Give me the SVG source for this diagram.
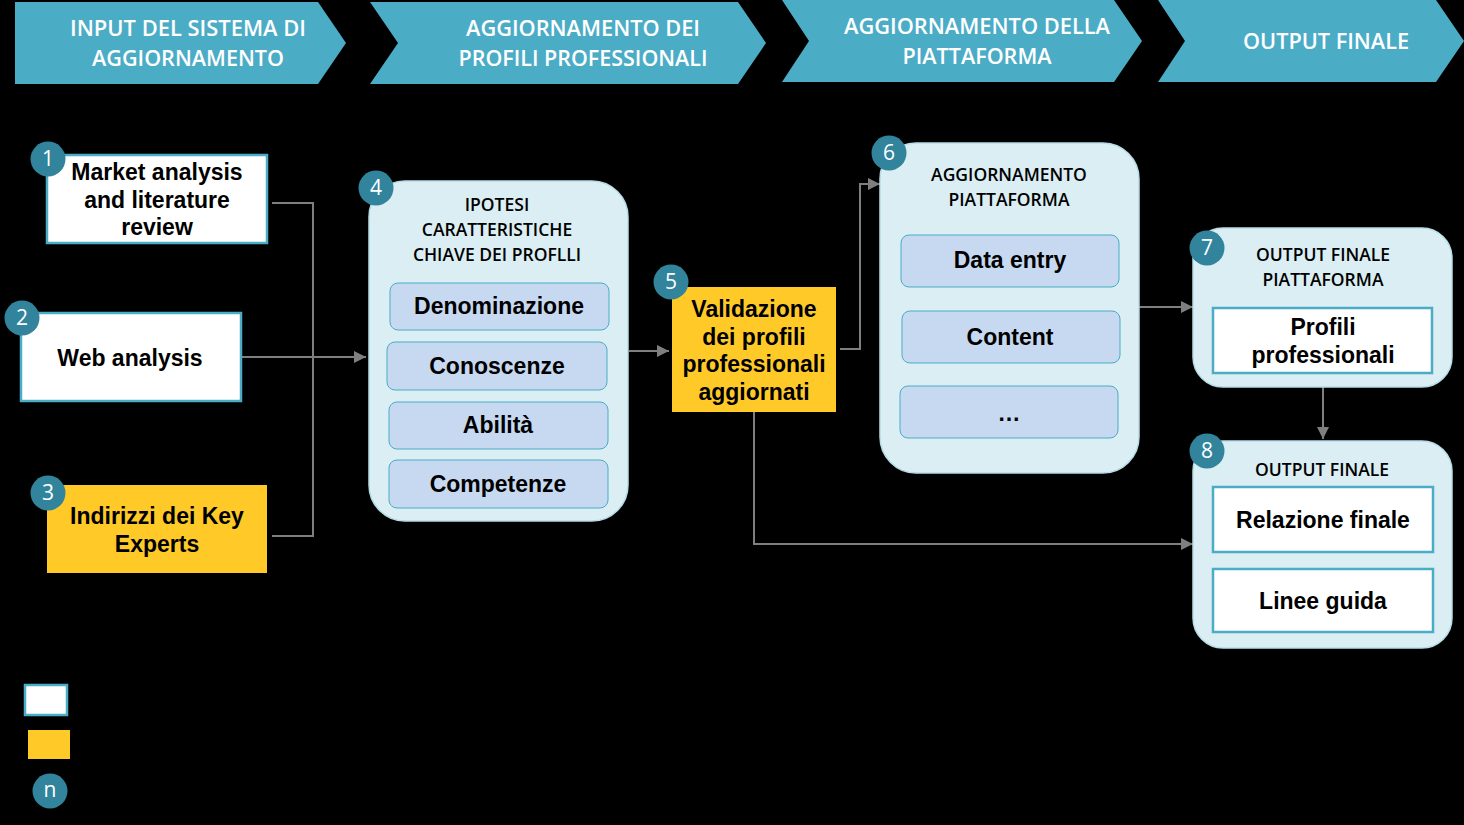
<svg xmlns="http://www.w3.org/2000/svg" width="1464" height="825" viewBox="0 0 1464 825">
<defs>
<style>
.chev{fill:#4BACC6}
.htxt{font-family:"Open Sans","DejaVu Sans",sans-serif;font-weight:600;font-size:21px;fill:#fff;text-anchor:middle}
.box{fill:#fff;stroke:#4BACC6;stroke-width:2.5}
.yel{fill:#FFCA28}
.grp{fill:#DAEEF3;stroke:#B7DDE8;stroke-width:1.5}
.inner{fill:#C6D9F1;stroke:#4BACC6;stroke-width:1}
.t{font-family:"Liberation Sans",Arial,sans-serif;font-weight:bold;font-size:23px;fill:#000;text-anchor:middle}
.title{font-family:"Open Sans","DejaVu Sans",sans-serif;font-weight:600;font-size:17.5px;fill:#000;text-anchor:middle}
.badge{fill:#31849B}
.num{font-family:"Open Sans","DejaVu Sans",sans-serif;font-size:21px;fill:#fff;text-anchor:middle}
.conn{fill:none;stroke:#7F7F7F;stroke-width:2}
</style>
<marker id="arr" markerUnits="userSpaceOnUse" markerWidth="12" markerHeight="12" viewBox="0 0 12 12" refX="12" refY="6" orient="auto">
<path d="M0,0 L12,6 L0,12 Z" fill="#7F7F7F"/>
</marker>
</defs>
<rect width="1464" height="825" fill="#000"/>

<g id="header">
<polygon class="chev" points="15,2 318,2 346,43 318,84 15,84"/>
<polygon class="chev" points="370,2 738,2 766,43 738,84 370,84 398,43"/>
<polygon class="chev" points="782,0 1114,0 1142,41 1114,82 782,82 809,41"/>
<polygon class="chev" points="1158,0 1436,0 1464,41 1436,82 1158,82 1185,41"/>
<text class="htxt" x="188" y="36" textLength="236" lengthAdjust="spacingAndGlyphs">INPUT DEL SISTEMA DI</text>
<text class="htxt" x="188" y="66" textLength="192" lengthAdjust="spacingAndGlyphs">AGGIORNAMENTO</text>
<text class="htxt" x="583" y="36" textLength="234" lengthAdjust="spacingAndGlyphs">AGGIORNAMENTO DEI</text>
<text class="htxt" x="583" y="66" textLength="249" lengthAdjust="spacingAndGlyphs">PROFILI PROFESSIONALI</text>
<text class="htxt" x="977" y="34" textLength="266" lengthAdjust="spacingAndGlyphs">AGGIORNAMENTO DELLA</text>
<text class="htxt" x="977" y="64" textLength="149" lengthAdjust="spacingAndGlyphs">PIATTAFORMA</text>
<text class="htxt" x="1326" y="49" textLength="166" lengthAdjust="spacingAndGlyphs">OUTPUT FINALE</text>
</g>

<g id="connectors">
<polyline class="conn" points="272,203 313,203 313,536 272,536"/>
<line class="conn" x1="241" y1="357" x2="366" y2="357" marker-end="url(#arr)"/>
<line class="conn" x1="629" y1="351" x2="669" y2="351" marker-end="url(#arr)"/>
<polyline class="conn" points="840,349 860,349 860,184 880,184" marker-end="url(#arr)"/>
<polyline class="conn" points="754,412 754,544 1193,544" marker-end="url(#arr)"/>
<line class="conn" x1="1139" y1="307" x2="1193" y2="307" marker-end="url(#arr)"/>
<line class="conn" x1="1323" y1="387" x2="1323" y2="439" marker-end="url(#arr)"/>
</g>

<g id="node1">
<rect class="box" x="47" y="155" width="220" height="88"/>
<text class="t" x="157" y="180">Market analysis</text>
<text class="t" x="157" y="208">and literature</text>
<text class="t" x="157" y="235">review</text>
<circle class="badge" cx="48" cy="159" r="17.5"/>
<text class="num" x="48" y="166">1</text>
</g>

<g id="node2">
<rect class="box" x="21" y="313" width="220" height="88"/>
<text class="t" x="130" y="366">Web analysis</text>
<circle class="badge" cx="22" cy="318" r="17.5"/>
<text class="num" x="22" y="325">2</text>
</g>

<g id="node3">
<rect class="yel" x="47" y="485" width="220" height="88"/>
<text class="t" x="157" y="524">Indirizzi dei Key</text>
<text class="t" x="157" y="552">Experts</text>
<circle class="badge" cx="48" cy="493" r="17.5"/>
<text class="num" x="48" y="500">3</text>
</g>

<g id="node4">
<rect class="grp" x="369" y="181" width="259" height="340" rx="36"/>
<text class="title" x="497" y="211">IPOTESI</text>
<text class="title" x="497" y="236">CARATTERISTICHE</text>
<text class="title" x="497" y="261">CHIAVE DEI PROFLLI</text>
<rect class="inner" x="390" y="283" width="219" height="47" rx="8"/>
<text class="t" x="499" y="314">Denominazione</text>
<rect class="inner" x="387" y="342" width="220" height="48" rx="8"/>
<text class="t" x="497" y="374">Conoscenze</text>
<rect class="inner" x="389" y="402" width="219" height="47" rx="8"/>
<text class="t" x="498" y="433">Abilità</text>
<rect class="inner" x="389" y="460" width="219" height="48" rx="8"/>
<text class="t" x="498" y="492">Competenze</text>
<circle class="badge" cx="376" cy="188" r="17.5"/>
<text class="num" x="376" y="195">4</text>
</g>

<g id="node5">
<rect class="yel" x="672" y="287" width="164" height="125"/>
<text class="t" x="754" y="317">Validazione</text>
<text class="t" x="754" y="345">dei profili</text>
<text class="t" x="754" y="372">professionali</text>
<text class="t" x="754" y="400">aggiornati</text>
<circle class="badge" cx="671" cy="282" r="17.5"/>
<text class="num" x="671" y="289">5</text>
</g>

<g id="node6">
<rect class="grp" x="880" y="143" width="259" height="330" rx="36"/>
<text class="title" x="1009" y="181">AGGIORNAMENTO</text>
<text class="title" x="1009" y="206">PIATTAFORMA</text>
<rect class="inner" x="901" y="235" width="218" height="52" rx="8"/>
<text class="t" x="1010" y="268">Data entry</text>
<rect class="inner" x="902" y="311" width="218" height="52" rx="8"/>
<text class="t" x="1010" y="345">Content</text>
<rect class="inner" x="900" y="386" width="218" height="52" rx="8"/>
<text class="t" x="1009" y="421">…</text>
<circle class="badge" cx="889" cy="153" r="17.5"/>
<text class="num" x="889" y="160">6</text>
</g>

<g id="node7">
<rect class="grp" x="1193" y="228" width="259" height="159" rx="30"/>
<text class="title" x="1323" y="261">OUTPUT FINALE</text>
<text class="title" x="1323" y="286">PIATTAFORMA</text>
<rect class="box" x="1213" y="308" width="219" height="65"/>
<text class="t" x="1323" y="335">Profili</text>
<text class="t" x="1323" y="363">professionali</text>
<circle class="badge" cx="1207" cy="248" r="17.5"/>
<text class="num" x="1207" y="255">7</text>
</g>

<g id="node8">
<rect class="grp" x="1193" y="441" width="259" height="207" rx="30"/>
<text class="title" x="1322" y="476">OUTPUT FINALE</text>
<rect class="box" x="1213" y="487" width="220" height="65"/>
<text class="t" x="1323" y="528">Relazione finale</text>
<rect class="box" x="1213" y="569" width="220" height="63"/>
<text class="t" x="1323" y="609">Linee guida</text>
<circle class="badge" cx="1207" cy="451" r="17.5"/>
<text class="num" x="1207" y="458">8</text>
</g>

<g id="legend">
<rect class="box" x="25" y="685" width="42" height="30"/>
<rect class="yel" x="28" y="730" width="42" height="29"/>
<circle class="badge" cx="50" cy="791" r="17.5"/>
<text class="num" x="50" y="797">n</text>
</g>
</svg>
